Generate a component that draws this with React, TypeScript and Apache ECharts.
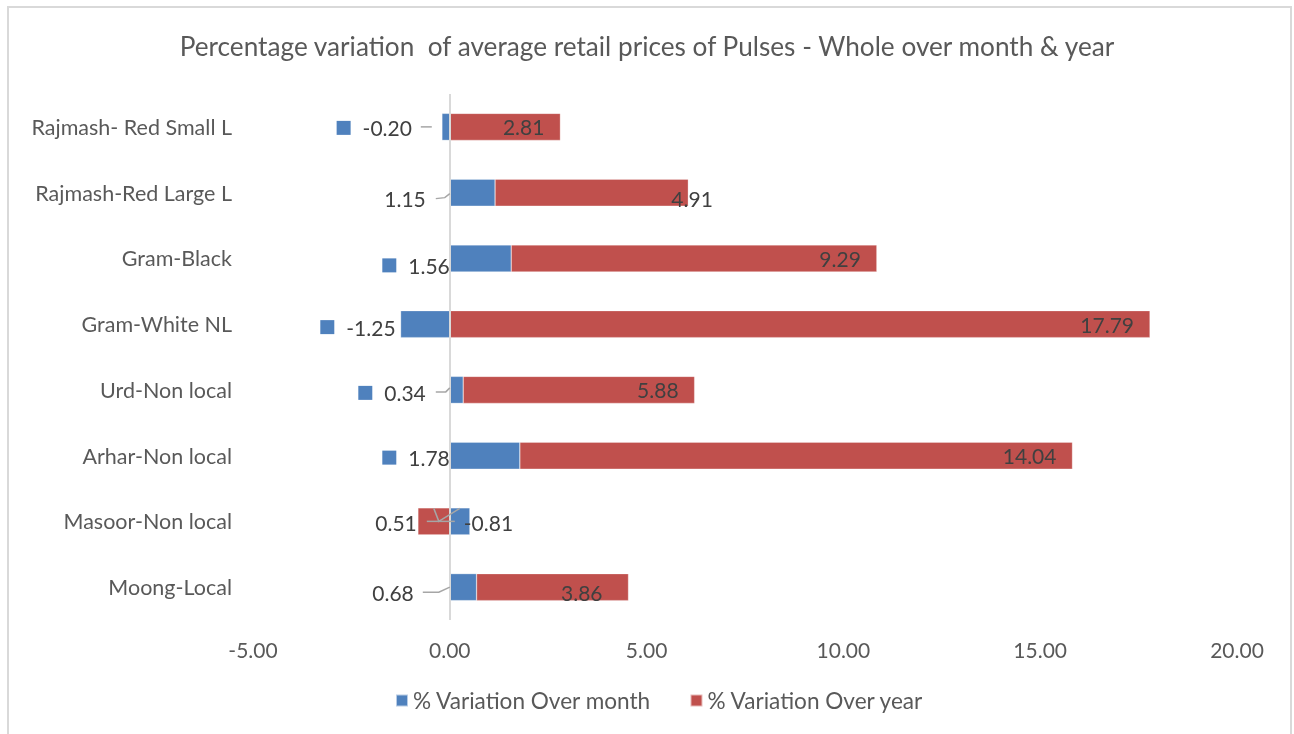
import React, { useEffect, useRef } from "react";
import * as echarts from "echarts";

const titleText =
  "Percentage variation  of average retail prices of Pulses - Whole over month & year";
const categories = [
  "Moong-Local",
  "Masoor-Non local",
  "Arhar-Non local",
  "Urd-Non local",
  "Gram-White NL",
  "Gram-Black",
  "Rajmash-Red Large L",
  "Rajmash- Red Small L",
];
const monthVariation = [0.68, 0.51, 1.78, 0.34, -1.25, 1.56, 1.15, -0.2];
const yearVariation = [3.86, -0.81, 14.04, 5.88, 17.79, 9.29, 4.91, 2.81];
const seriesNames = ["% Variation Over month", "% Variation Over year"];
const xTicks = { min: -5, max: 20, interval: 5 };

const FONT = "Lato, 'Open Sans', sans-serif";
const BLUE = "#4f81bd";
const RED = "#c0504d";
const LABEL_COLOR = "#404040";
const AXIS_COLOR = "#595959";
const LEADER = "#a6a6a6";

// label placement tweaks that mimic the reference's data-label layout
const monthLabelStyle: Record<string, { key: boolean; distance: number; dy: number }> = {
  "Moong-Local": { key: false, distance: 36, dy: 5 },
  "Masoor-Non local": { key: false, distance: 33, dy: 1 },
  "Arhar-Non local": { key: true, distance: 0, dy: 2 },
  "Urd-Non local": { key: true, distance: 24, dy: 3 },
  "Gram-White NL": { key: true, distance: 5, dy: 3 },
  "Gram-Black": { key: true, distance: 0, dy: 7 },
  "Rajmash-Red Large L": { key: false, distance: 24, dy: 6 },
  "Rajmash- Red Small L": { key: true, distance: 30, dy: 1 },
};
const yearLabelStyle: Record<string, { position: string; distance: number; dy: number }> = {
  "Moong-Local": { position: "insideRight", distance: 26, dy: 5 },
  "Masoor-Non local": { position: "right", distance: 14, dy: 1 },
  "Rajmash-Red Large L": { position: "right", distance: -17, dy: 6 },
};
// leader-line shapes (pixel offsets from the zero line / category centre)
const leaderShapes: Record<string, number[][][]> = {
  "Rajmash- Red Small L": [[[-29, 0], [-18, 0]]],
  "Rajmash-Red Large L": [[[-14, 6], [-5, 5], [0, 1]]],
  "Urd-Non local": [[[-14, 2], [-4, 2], [0, -2]]],
  "Masoor-Non local": [
    [[-23, 0], [5, 0]],
    [[-16, -13], [-11, 0], [10, -13]],
  ],
  "Moong-Local": [[[-27, 5], [-11, 5], [0, 0]]],
};

export default function App() {
  const ref = useRef<HTMLDivElement>(null);
  useEffect(() => {
    if (!ref.current) return;
    const chart = echarts.init(ref.current, undefined, { renderer: "svg" });

    const monthData = monthVariation.map((v, i) => {
      const s = monthLabelStyle[categories[i]];
      return {
        value: v,
        label: {
          show: true,
          position: "left",
          distance: s.distance,
          offset: [0, s.dy],
          formatter: s.key ? `{sq|}{v|${v.toFixed(2)}}` : `{v|${v.toFixed(2)}}`,
        },
      };
    });
    const yearData = yearVariation.map((v, i) => {
      const s = yearLabelStyle[categories[i]];
      return s
        ? {
            value: v,
            label: { position: s.position, distance: s.distance, offset: [0, s.dy] },
          }
        : { value: v };
    });

    const option: any = {
      animation: false,
      textStyle: { fontFamily: FONT },
      title: {
        text: titleText,
        left: "center",
        top: 28,
        textStyle: { fontFamily: FONT, fontSize: 26.2, fontWeight: "normal", color: AXIS_COLOR },
      },
      legend: {
        bottom: 17,
        left: 390,
        itemWidth: 12,
        itemHeight: 12,
        itemGap: 38,
        icon: "rect",
        textStyle: { fontFamily: FONT, fontSize: 22.6, color: AXIS_COLOR },
        data: seriesNames,
      },
      grid: { left: 253, right: 57, top: 94, bottom: 114, containLabel: false },
      xAxis: {
        type: "value",
        min: xTicks.min,
        max: xTicks.max,
        interval: xTicks.interval,
        axisLine: { show: false },
        axisTick: { show: false },
        splitLine: { show: false },
        axisLabel: {
          formatter: (v: number) => v.toFixed(2),
          fontFamily: FONT,
          fontSize: 21,
          color: AXIS_COLOR,
          margin: 19,
        },
      },
      yAxis: {
        type: "category",
        data: categories,
        axisLine: { show: false },
        axisTick: { show: false },
        axisLabel: { fontFamily: FONT, fontSize: 21.5, color: AXIS_COLOR, margin: 21 },
      },
      series: [
        {
          name: seriesNames[0],
          type: "bar",
          stack: "total",
          barWidth: 27,
          itemStyle: { color: BLUE, borderColor: "rgba(255,255,255,0.6)", borderWidth: 0.5 },
          label: {
            show: true,
            fontFamily: FONT,
            fontSize: 21,
            color: LABEL_COLOR,
            rich: {
              sq: { width: 14, height: 14, backgroundColor: BLUE },
              v: { fontFamily: FONT, fontSize: 21, color: LABEL_COLOR, padding: [0, 0, 0, 12] },
            },
          },
          data: monthData,
        },
        {
          name: seriesNames[1],
          type: "bar",
          stack: "total",
          barWidth: 27,
          itemStyle: { color: RED, borderColor: "rgba(255,255,255,0.6)", borderWidth: 0.5 },
          label: {
            show: true,
            position: "insideRight",
            distance: 16,
            fontFamily: FONT,
            fontSize: 21,
            color: LABEL_COLOR,
            formatter: (p: any) => Number(p.value).toFixed(2),
          },
          markLine: {
            silent: true,
            symbol: "none",
            label: { show: false },
            lineStyle: { color: "#d9d9d9", width: 2, type: "solid" },
            data: [{ xAxis: 0 }],
          },
          data: yearData,
        },
      ],
    };
    chart.setOption(option);

    // leader lines anchored to the axis scale
    const lines: any[] = [];
    Object.keys(leaderShapes).forEach((cat) => {
      const p = chart.convertToPixel({ gridIndex: 0 }, [0, cat]) as number[];
      if (!p) return;
      leaderShapes[cat].forEach((shape) => {
        lines.push({
          type: "polyline",
          silent: true,
          z: 10,
          shape: { points: shape.map(([dx, dy]) => [p[0] + dx, p[1] + dy]) },
          style: { stroke: LEADER, lineWidth: 1.5, fill: null },
        });
      });
    });
    chart.setOption({ graphic: lines });

    return () => chart.dispose();
  }, []);

  return (
    <>
      <div
        ref={ref}
        style={{ position: "fixed", left: 0, top: 0, width: 1294, height: 734 }}
      />
      <div
        style={{
          position: "fixed",
          left: 7,
          top: 6,
          width: 1285,
          height: 740,
          border: "2px solid #d9d9d9",
          boxSizing: "border-box",
          pointerEvents: "none",
        }}
      />
    </>
  );
}
